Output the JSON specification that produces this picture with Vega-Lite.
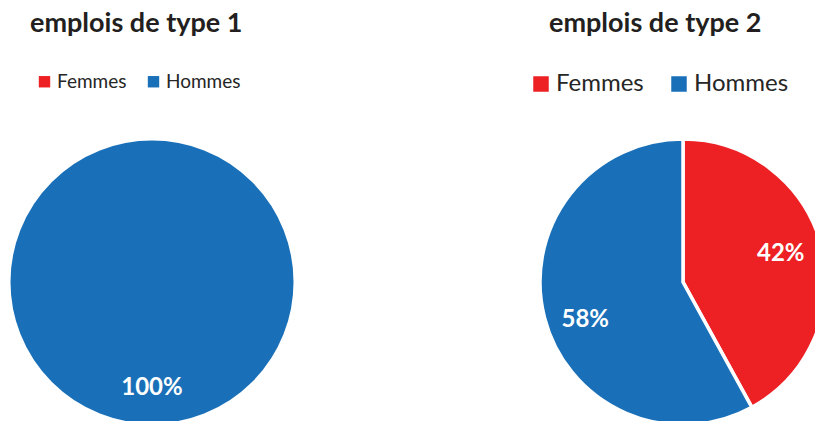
{
  "$schema": "https://vega.github.io/schema/vega-lite/v6.json",
  "padding": {"top": 10, "left": 0, "right": 0, "bottom": 0},
  "background": "white",
  "bounds": "flush",
  "spacing": 245,
  "config": {
    "view": {"stroke": null, "fill": "white"},
    "font": "Lato",
    "title": {"anchor": "start", "fontSize": 27, "fontWeight": "bold", "color": "#231F20", "baseline": "top", "offset": 8, "frame": "group"},
    "legend": {"orient": "none", "direction": "horizontal", "symbolType": "square", "padding": 0, "labelColor": "#262626", "labelFont": "Lato", "symbolStrokeWidth": 0, "labelOffset": 3}
  },
  "datasets": {
    "type1": [
      {"sexe": "Femmes", "part": 0},
      {"sexe": "Hommes", "part": 1}
    ],
    "type2": [
      {"sexe": "Femmes", "part": 0.42},
      {"sexe": "Hommes", "part": 0.58}
    ]
  },
  "hconcat": [
    {
      "width": 304,
      "height": 472,
      "data": {"name": "type1"},
      "title": {"text": "emplois de type 1", "dx": 30},
      "encoding": {
        "theta": {"field": "part", "type": "quantitative", "stack": true},
        "color": {
          "field": "sexe", "type": "nominal",
          "scale": {"domain": ["Femmes", "Hommes"], "range": ["#ED2024", "#1A70B8"]},
          "legend": {"title": null, "legendX": 35, "legendY": 26, "symbolSize": 130, "labelFontSize": 19, "columnPadding": 17}
        }
      },
      "layer": [
        {"mark": {"type": "arc", "radius": 143, "stroke": "white", "strokeWidth": 3}},
        {
          "transform": [{"filter": "datum.part > 0"}],
          "mark": {"type": "text", "radius": 106, "fontSize": 24, "fontWeight": "bold", "color": "white"},
          "encoding": {"text": {"field": "part", "type": "quantitative", "format": ".0%"}, "color": {"value": "white"}}
        }
      ]
    },
    {
      "width": 268,
      "height": 472,
      "data": {"name": "type2"},
      "title": {"text": "emplois de type 2", "dx": 0},
      "encoding": {
        "theta": {"field": "part", "type": "quantitative", "stack": true},
        "color": {
          "field": "sexe", "type": "nominal",
          "scale": {"domain": ["Femmes", "Hommes"], "range": ["#ED2024", "#1A70B8"]},
          "legend": {"title": null, "legendX": -20, "legendY": 26, "symbolSize": 240, "labelFontSize": 24, "columnPadding": 23}
        }
      },
      "layer": [
        {"mark": {"type": "arc", "radius": 143, "stroke": "white", "strokeWidth": 3.5}},
        {
          "mark": {"type": "text", "radius": 103, "dy": 5, "fontSize": 24, "fontWeight": "bold", "color": "white"},
          "encoding": {
            "theta": {"field": "part", "type": "quantitative", "stack": true, "scale": {"range": [-0.07, 6.213]}},
            "text": {"field": "part", "type": "quantitative", "format": ".0%"},
            "color": {"value": "white"}
          }
        }
      ],
      "resolve": {"scale": {"theta": "independent"}}
    }
  ],
  "resolve": {"scale": {"color": "independent"}, "legend": {"color": "independent"}}
}
